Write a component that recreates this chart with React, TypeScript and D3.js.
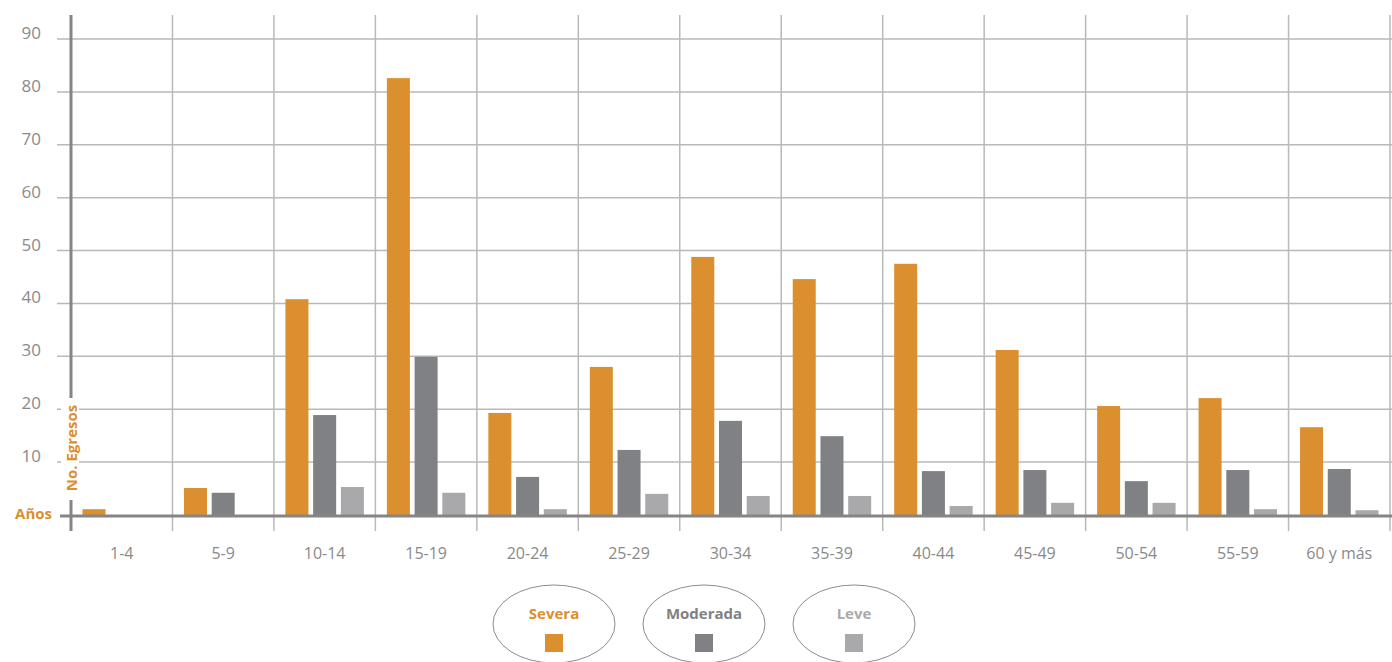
import React from "react";
import * as d3 from "d3";

// Age groups (x axis)
const categories = ["1-4", "5-9", "10-14", "15-19", "20-24", "25-29", "30-34", "35-39", "40-44", "45-49", "50-54", "55-59", "60 y más"];
// Discharges by severity
const severa = [1.1, 5.1, 40.8, 82.6, 19.3, 28, 48.8, 44.6, 47.5, 31.2, 20.6, 22.1, 16.6];
const moderada = [0, 4.2, 18.9, 29.9, 7.2, 12.3, 17.8, 14.9, 8.3, 8.5, 6.4, 8.5, 8.7];
const leve = [0, 0, 5.3, 4.2, 1.1, 4, 3.6, 3.6, 1.7, 2.3, 2.3, 1.1, 0.9];
const seriesNames = ["Severa", "Moderada", "Leve"];
const yTicks = [10, 20, 30, 40, 50, 60, 70, 80, 90];

const COLORS: Record<string, string> = {
  Severa: "#DB8F2F",
  Moderada: "#808184",
  Leve: "#A9A9AB",
};
const FONT = "'Open Sans', 'Noto Sans', sans-serif";

export default function App() {
  const W = 1392;
  const H = 662;
  const x0 = 71;
  const x1 = 1390;
  const yBase = 515;

  const x = d3.scaleBand<string>().domain(categories).range([x0, x1]).paddingInner(0).paddingOuter(0);
  const bw = x.bandwidth();
  const xs = d3.scaleBand<string>().domain(seriesNames).range([11.5, bw - 11.5]).paddingInner(0.17).paddingOuter(0);
  const y = d3.scaleLinear().domain([0, 90]).range([yBase, 39]);

  const seriesData: Record<string, number[]> = { Severa: severa, Moderada: moderada, Leve: leve };

  const gridColor = "#b9b9b9";
  const legendCenters = [554, 704, 854];

  return (
    <svg width={W} height={H} style={{ position: "absolute", left: 0, top: 0, background: "#fff" }}>
      {/* horizontal gridlines */}
      {yTicks.map((t) => (
        <line key={"h" + t} x1={57} x2={W} y1={y(t)} y2={y(t)} stroke={gridColor} strokeWidth={1.5} />
      ))}
      {/* vertical separators between age groups */}
      {categories.map((c, i) =>
        i === 0 ? null : (
          <line key={"v" + c} x1={x(c)!} x2={x(c)!} y1={15} y2={531} stroke={gridColor} strokeWidth={1.5} />
        )
      )}
      <line x1={x1} x2={x1} y1={15} y2={531} stroke={gridColor} strokeWidth={1.5} />

      {/* y tick labels */}
      {yTicks.map((t) => (
        <text key={"t" + t} x={41} y={y(t)} textAnchor="end" fontFamily={FONT} fontSize={17} fill="#8a8a8a">
          {t}
        </text>
      ))}

      {/* bars */}
      {categories.map((c, i) => (
        <g key={"g" + c} transform={`translate(${x(c)},0)`}>
          {seriesNames.map((s) => {
            const v = seriesData[s][i];
            if (!v) return null;
            return (
              <rect key={s} x={xs(s)!} y={y(v)} width={xs.bandwidth()} height={yBase - y(v)} fill={COLORS[s]} />
            );
          })}
        </g>
      ))}

      {/* baseline and y axis */}
      <line x1={60} x2={W} y1={yBase + 1} y2={yBase + 1} stroke="#858585" strokeWidth={3} />
      <line x1={x0} x2={x0} y1={15} y2={531} stroke="#858585" strokeWidth={3} />

      {/* axis titles */}
      <rect x={61} y={398} width={18} height={102} fill="#fff" />
      <text
        transform={`translate(76.5,448) rotate(-90)`}
        textAnchor="middle"
        fontFamily={FONT}
        fontWeight={700}
        fontSize={15}
        fill={COLORS.Severa}
      >
        No. Egresos
      </text>
      <text x={52} y={519} textAnchor="end" fontFamily={FONT} fontWeight={700} fontSize={15} fill={COLORS.Severa}>
        Años
      </text>

      {/* x tick labels */}
      {categories.map((c) => (
        <text key={"x" + c} x={x(c)! + bw / 2} y={559} textAnchor="middle" fontFamily={FONT} fontSize={16} fill="#8a8a8a">
          {c}
        </text>
      ))}

      {/* legend */}
      {seriesNames.map((s, i) => (
        <g key={"l" + s} transform={`translate(${legendCenters[i]},0)`}>
          <ellipse cx={0} cy={624} rx={61} ry={39} fill="#fff" stroke="#8c8c8c" strokeWidth={1} />
          <text x={0} y={619} textAnchor="middle" fontFamily={FONT} fontWeight={700} fontSize={15} fill={COLORS[s]}>
            {s}
          </text>
          <rect x={-9} y={634} width={18} height={18} fill={COLORS[s]} />
        </g>
      ))}
    </svg>
  );
}
